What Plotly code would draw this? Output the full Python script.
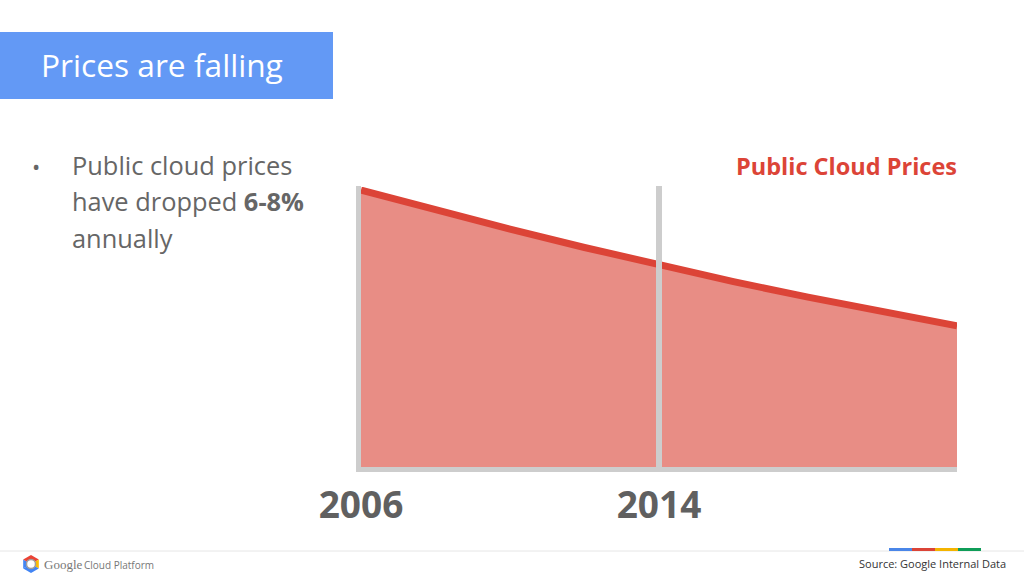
import math
import plotly.graph_objects as go

# ---- data ----
years = [2006, 2008, 2010, 2012, 2014, 2016, 2018, 2020, 2022]
prices = [98.9, 91.8, 84.95, 78.4, 72.1, 66.2, 60.65, 55.4, 50.4]
tick_years = [2006, 2014]
tick_labels = ["<b>2006</b>", "<b>2014</b>"]
series_name = "Public Cloud Prices"
title_text = "Prices are falling"
bullet_lines = ["Public cloud prices", "have dropped <b>6-8%</b>", "annually"]
source_text = "Source: Google Internal Data"

W, H = 1024, 577
def px(x): return x / W
def py(y): return 1 - y / H

RED = "#DC4437"
FILL = "rgb(232,141,133)"
GREY_AX = "#CDCDCD"
TEXT = "#666666"

fig = go.Figure()
fig.add_trace(go.Scatter(
    x=years, y=prices, mode="lines", fill="tozeroy",
    fillcolor=FILL, line=dict(color=RED, width=7),
    hoverinfo="skip", showlegend=False,
))

shapes = []
# title banner
shapes.append(dict(type="rect", xref="paper", yref="paper",
                   x0=px(0), x1=px(333), y0=py(99), y1=py(32),
                   fillcolor="#6399F5", line_width=0, layer="below"))
# left axis line
shapes.append(dict(type="rect", xref="x domain", yref="y domain", xsizemode="pixel", ysizemode="pixel",
                   xanchor=0, x0=-5, x1=0, yanchor=0, y0=-5, y1=281,
                   fillcolor=GREY_AX, line_width=0, layer="above"))
# bottom axis line
shapes.append(dict(type="rect", xref="x domain", yref="y domain", ysizemode="pixel",
                   x0=0, x1=1, yanchor=0, y0=-5, y1=0,
                   fillcolor=GREY_AX, line_width=0, layer="above"))
# 2014 marker line
shapes.append(dict(type="rect", xref="x", yref="y domain", xsizemode="pixel", ysizemode="pixel",
                   xanchor=2014, x0=-3, x1=3, yanchor=0, y0=-5, y1=281,
                   fillcolor=GREY_AX, line_width=0, layer="above"))
# footer divider
shapes.append(dict(type="line", xref="paper", yref="paper",
                   x0=0, x1=1, y0=py(551), y1=py(551),
                   line=dict(color="#E6E6E6", width=1)))
# colour bar
for i, c in enumerate(["#4A86E8", "#DB4437", "#F4B400", "#0F9D58"]):
    shapes.append(dict(type="rect", xref="paper", yref="paper",
                       x0=px(889 + 23 * i), x1=px(889 + 23 * (i + 1)),
                       y0=py(551), y1=py(548), fillcolor=c, line_width=0))
# logo hexagon (approximate)
cx, cy, r = 31, 564, 9
pts = [(cx + r * math.cos(math.radians(a)), cy + r * math.sin(math.radians(a))) for a in range(-90, 271, 60)]
seg_cols = ["#EA4335", "#FBBC05", "#4285F4", "#4285F4", "#4285F4", "#EA4335"]
for i in range(6):
    (x1, y1), (x2, y2) = pts[i], pts[i + 1]
    path = f"M {px(cx)} {py(cy)} L {px(x1)} {py(y1)} L {px(x2)} {py(y2)} Z"
    shapes.append(dict(type="path", xref="paper", yref="paper", path=path,
                       fillcolor=seg_cols[i], line_width=0))
shapes.append(dict(type="circle", xref="paper", yref="paper",
                   x0=px(cx - 4.5), x1=px(cx + 4.5), y0=py(cy + 4.5), y1=py(cy - 4.5),
                   fillcolor="white", line=dict(color="#9E9E9E", width=1.5)))

annotations = [
    dict(text=title_text, x=px(39), y=py(65), xref="paper", yref="paper",
         xanchor="left", yanchor="middle", showarrow=False,
         font=dict(family="Open Sans", size=31.7, color="white")),
    dict(text="•", x=px(30), y=py(166), xref="paper", yref="paper",
         xanchor="left", yanchor="middle", showarrow=False,
         font=dict(family="Open Sans", size=22, color=TEXT)),
    dict(text=series_name, x=px(959), y=py(166), xref="paper", yref="paper",
         xanchor="right", yanchor="middle", showarrow=False,
         font=dict(family="Open Sans", size=23.5, color=RED, weight="bold")),
    dict(text=source_text, x=px(1008), y=py(563), xref="paper", yref="paper",
         xanchor="right", yanchor="middle", showarrow=False,
         font=dict(family="Open Sans", size=11, color="#333333")),
    dict(text="Google", x=px(42), y=py(564), xref="paper", yref="paper",
         xanchor="left", yanchor="middle", showarrow=False,
         font=dict(family="Liberation Serif", size=13, color="#777777")),
    dict(text="Cloud Platform", x=px(82), y=py(565), xref="paper", yref="paper",
         xanchor="left", yanchor="middle", showarrow=False,
         font=dict(family="Open Sans", size=10, color="#777777")),
]
for i, line in enumerate(bullet_lines):
    annotations.append(dict(text=line, x=px(70), y=py(165 + 36.5 * i), xref="paper", yref="paper",
                            xanchor="left", yanchor="middle", showarrow=False,
                            font=dict(family="Open Sans", size=25.4, color=TEXT)))

fig.update_layout(
    width=W, height=H, margin=dict(l=0, r=0, t=0, b=0, autoexpand=False),
    paper_bgcolor="white", plot_bgcolor="rgba(0,0,0,0)",
    shapes=shapes, annotations=annotations,
    xaxis=dict(domain=[px(361), px(957)], range=[2006, 2022], automargin=False,
               tickvals=tick_years, ticktext=tick_labels, ticks="",
               showgrid=False, zeroline=False, showline=False,
               tickfont=dict(family="Open Sans", size=37, color="#606060"),
               ticklabelstandoff=13, fixedrange=True),
    yaxis=dict(domain=[py(467), py(187)], range=[0, 100], visible=False, automargin=False,
               showgrid=False, zeroline=False, fixedrange=True),
)
fig.write_html("out.html", config={"displayModeBar": False},
               post_script="document.body.style.margin='0';document.body.style.overflow='hidden';")
